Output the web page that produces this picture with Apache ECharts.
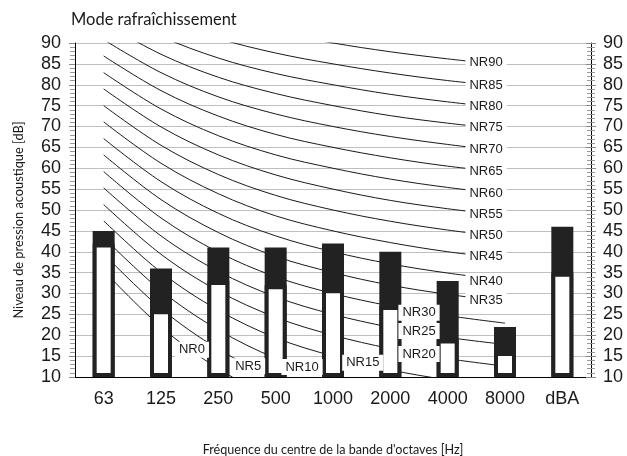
<!DOCTYPE html>
<html>
<head>
<meta charset="utf-8">
<script src="https://cdn.jsdelivr.net/npm/echarts@6/dist/echarts.min.js"></script>
<style>
  html, body { margin: 0; padding: 0; background: #fff; }
  #chart { width: 627px; height: 456px; }
</style>
</head>
<body>
<div id="chart"></div>
<script>
// ---- data ----
const categories = ['63', '125', '250', '500', '1000', '2000', '4000', '8000', 'dBA'];
// upper (black) level of each bar
const upperLevels = [45, 36, 41, 41, 42, 40, 33, 22, 46];
// lower (white) level of each bar
const lowerLevels = [42, 26, 33, 32, 31, 27, 19, 16, 35];

// NR curves, values at 63 ... 8000 Hz
const nrNames = ['NR0','NR5','NR10','NR15','NR20','NR25','NR30','NR35','NR40','NR45','NR50','NR55','NR60','NR65','NR70','NR75','NR80','NR85','NR90'];
const nr0  = [35.5, 22.0, 12.0, 4.8, 0, -3.5, -6.1, -8.0];
const nr5  = [39.5, 26.4, 16.7, 9.7, 5, 1.6, -1.0, -2.9];
const nr10 = [43.4, 30.7, 21.3, 14.5, 10, 6.7, 4.2, 2.3];
const nr15 = [47.4, 35.1, 26.0, 19.4, 15, 11.7, 9.3, 7.5];
const nr20 = [51.3, 39.4, 30.6, 24.3, 20, 16.8, 14.4, 12.6];
const nr25 = [55.3, 43.8, 35.3, 29.2, 25, 21.9, 19.5, 17.8];
const nr30 = [59.2, 48.1, 39.9, 34.0, 30, 27.0, 24.7, 22.9];
const nr35 = [63.2, 52.5, 44.6, 38.9, 35, 32.0, 29.8, 28.1];
const nr40 = [67.1, 56.8, 49.2, 43.8, 40, 37.1, 34.9, 33.2];
const nr45 = [71.1, 61.2, 53.9, 48.6, 45, 42.2, 40.0, 38.4];
const nr50 = [75.0, 65.5, 58.5, 53.5, 50, 47.3, 45.2, 43.5];
const nr55 = [79.0, 69.9, 63.2, 58.4, 55, 52.3, 50.3, 48.7];
const nr60 = [82.9, 74.2, 67.8, 63.2, 60, 57.4, 55.4, 53.8];
const nr65 = [86.9, 78.6, 72.5, 68.1, 65, 62.5, 60.5, 59.0];
const nr70 = [90.8, 82.9, 77.1, 73.0, 70, 67.6, 65.7, 64.1];
const nr75 = [94.8, 87.3, 81.8, 77.9, 75, 72.6, 70.8, 69.3];
const nr80 = [98.7, 91.6, 86.4, 82.7, 80, 77.7, 75.9, 74.4];
const nr85 = [102.7, 96.0, 91.1, 87.6, 85, 82.8, 81.0, 79.6];
const nr90 = [106.6, 100.3, 95.7, 92.5, 90, 87.9, 86.2, 84.7];
const nrCurves = [nr0, nr5, nr10, nr15, nr20, nr25, nr30, nr35, nr40, nr45, nr50, nr55, nr60, nr65, nr70, nr75, nr80, nr85, nr90];

const yTicks = { min: 10, max: 90, step: 5 };

// ---- layout: where each NR label sits (x in category units, y in dB) ----
const nrLabelAnchors = [
  [2.04, 16.5], [3.02, 12.6], [3.96, 12.4], [5.02, 13.4], [6.0, 15.5],
  [6.0, 21.0], [6.0, 25.4], [7.17, 28.4], [7.17, 32.8], [7.17, 39.0],
  [7.17, 44.0], [7.17, 49.0], [7.17, 54.0], [7.17, 59.3], [7.17, 64.4],
  [7.17, 69.7], [7.17, 74.7], [7.17, 79.8], [7.17, 85.3]
];

const chart = echarts.init(document.getElementById('chart'), null, { renderer: 'canvas' });

const tickFont = "Liberation Sans";
const titleFont = "Lato";

const yBase = {
  type: 'value', min: yTicks.min, max: yTicks.max, interval: yTicks.step,
  startValue: yTicks.min
};

const series = [];
nrCurves.forEach((curve, i) => {
  series.push({
    name: nrNames[i], type: 'line', data: curve, xAxisIndex: 0, yAxisIndex: 0,
    smooth: 0.35, symbol: 'none', z: 2, silent: true,
    lineStyle: { color: '#1a1a1a', width: 1 }
  });
});
series.push({
  name: 'upper', type: 'bar', data: upperLevels, xAxisIndex: 0, yAxisIndex: 0,
  barWidth: 22, barGap: '-100%', z: 3,
  itemStyle: { color: '#222', borderColor: '#222', borderWidth: 4 }
});
series.push({
  name: 'lower', type: 'bar', data: lowerLevels, xAxisIndex: 0, yAxisIndex: 0,
  barWidth: 22, barGap: '-100%', z: 4,
  itemStyle: { color: '#fff', borderColor: '#222', borderWidth: 4 }
});
series.push({
  name: 'labels', type: 'scatter', xAxisIndex: 1, yAxisIndex: 0, z: 10,
  symbolSize: 0.1, itemStyle: { color: 'rgba(0,0,0,0)', opacity: 1 }, silent: true,
  data: nrLabelAnchors.map((p, i) => ({ value: p, name: nrNames[i] })),
  label: {
    show: true, position: 'inside', formatter: p => p.name,
    fontFamily: tickFont, fontSize: 13, color: '#1a1a1a', opacity: 1,
    backgroundColor: '#ffffff', padding: [2, 4, 1, 4]
  }
});

chart.setOption({
  animation: false,
  backgroundColor: '#fff',
  title: {
    text: 'Mode rafraîchissement', left: 66, top: 6,
    textStyle: { fontFamily: titleFont, fontSize: 16.5, fontWeight: 'normal', color: '#1a1a1a' }
  },
  grid: { left: 75, right: 36, top: 43, bottom: 79, containLabel: false, outerBoundsMode: 'none' },
  xAxis: [
    {
      type: 'category', data: categories, boundaryGap: true,
      name: "Fréquence du centre de la bande d'octaves [Hz]",
      nameLocation: 'middle', nameGap: 66,
      nameTextStyle: { fontFamily: titleFont, fontSize: 12.6, color: '#1a1a1a' },
      axisLine: { lineStyle: { color: '#000', width: 1 } },
      axisTick: { show: false },
      axisLabel: { fontFamily: tickFont, fontSize: 18, color: '#1a1a1a', margin: 13 },
      splitLine: { show: false }
    },
    { type: 'value', min: 0, max: 9, show: false }
  ],
  yAxis: [
    Object.assign({}, yBase, {
      position: 'left',
      name: 'Niveau de pression acoustique [dB]',
      nameLocation: 'middle', nameGap: 50, nameRotate: 90,
      nameTextStyle: { fontFamily: titleFont, fontSize: 12.8, color: '#1a1a1a', padding: [0, 20, 0, 0] },
      axisLine: { show: true, lineStyle: { color: '#000', width: 1 } },
      axisTick: { show: true, length: 6, lineStyle: { color: '#888' } },
      minorTick: { show: true, splitNumber: 5, length: 5, lineStyle: { color: '#999' } },
      axisLabel: { fontFamily: tickFont, fontSize: 18, color: '#1a1a1a', margin: 14 },
      splitLine: { show: true, lineStyle: { color: '#bfbfbf', width: 1 } }
    }),
    Object.assign({}, yBase, {
      position: 'right',
      axisLine: { show: true, lineStyle: { color: '#000', width: 1 } },
      axisTick: { show: true, length: 5, lineStyle: { color: '#888' } },
      minorTick: { show: true, splitNumber: 5, length: 4, lineStyle: { color: '#999' } },
      axisLabel: { fontFamily: tickFont, fontSize: 18, color: '#1a1a1a', margin: 12 },
      splitLine: { show: false }
    }),
    Object.assign({}, yBase, {
      position: 'right',
      axisLine: { show: false },
      axisTick: { show: true, inside: true, length: 5, lineStyle: { color: '#888' } },
      minorTick: { show: true, splitNumber: 5, length: 4, lineStyle: { color: '#999' } },
      axisLabel: { show: false },
      splitLine: { show: false }
    })
  ],
  series: series
});
</script>
</body>
</html>
